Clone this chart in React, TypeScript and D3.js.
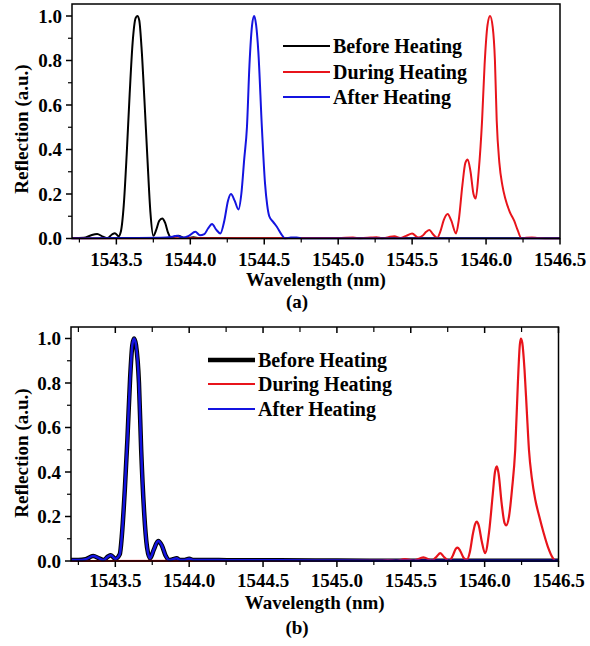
import React from "react";
import * as d3 from "d3";

// ---------- Data ----------
const xTicks = [1543.5, 1544.0, 1544.5, 1545.0, 1545.5, 1546.0, 1546.5];
const yTicks = [0, 0.2, 0.4, 0.6, 0.8, 1.0];
const seriesNames = ["Before Heating", "During Heating", "After Heating"];

// Panel (a)
const aBeforeW = [1543.2, 1543.28, 1543.33, 1543.37, 1543.41, 1543.44, 1543.47, 1543.49, 1543.515, 1543.53, 1543.55, 1543.57, 1543.59, 1543.61, 1543.63, 1543.642, 1543.655, 1543.67, 1543.69, 1543.71, 1543.73, 1543.75, 1543.77, 1543.79, 1543.81, 1543.83, 1543.85, 1543.87, 1543.9, 1543.92, 1543.95, 1543.98, 1544.02, 1544.06, 1544.2, 1544.5, 1545.0, 1546.5];
const aBeforeV = [0.002, 0.003, 0.015, 0.02, 0.008, 0.002, 0.018, 0.024, 0.01, 0.03, 0.15, 0.38, 0.65, 0.88, 0.99, 1.0, 0.98, 0.86, 0.62, 0.36, 0.12, 0.012, 0.04, 0.08, 0.09, 0.07, 0.025, 0.004, 0.01, 0.012, 0.004, 0.002, 0.006, 0.002, 0.002, 0.001, 0.001, 0.001];

const aDuringW = [1543.2, 1544.0, 1544.8, 1545.0, 1545.1, 1545.15, 1545.22, 1545.26, 1545.3, 1545.34, 1545.38, 1545.42, 1545.46, 1545.5, 1545.54, 1545.57, 1545.595, 1545.617, 1545.64, 1545.67, 1545.69, 1545.715, 1545.74, 1545.765, 1545.797, 1545.815, 1545.84, 1545.86, 1545.876, 1545.895, 1545.915, 1545.93, 1545.95, 1545.973, 1545.99, 1546.01, 1546.027, 1546.045, 1546.06, 1546.072, 1546.09, 1546.11, 1546.13, 1546.16, 1546.19, 1546.215, 1546.24, 1546.27, 1546.31, 1546.35, 1546.4, 1546.5];
const aDuringV = [0, 0.001, 0.002, 0.002, 0.004, 0.001, 0.004, 0.006, 0.001, 0.006, 0.01, 0.002, 0.012, 0.023, 0.004, 0.012, 0.03, 0.038, 0.02, 0.003, 0.03, 0.085, 0.11, 0.08, 0.023, 0.08, 0.24, 0.34, 0.355, 0.3, 0.2, 0.18, 0.3, 0.53, 0.78, 0.96, 1.0, 0.95, 0.8, 0.53, 0.34, 0.24, 0.18, 0.12, 0.08, 0.035, 0.0, 0.003, 0.005, 0.002, 0.0, 0.0];

const aAfterW = [1543.2, 1543.5, 1543.8, 1543.88, 1543.91, 1543.95, 1543.99, 1544.034, 1544.065, 1544.095, 1544.12, 1544.147, 1544.175, 1544.203, 1544.23, 1544.255, 1544.275, 1544.3, 1544.326, 1544.345, 1544.365, 1544.383, 1544.4, 1544.418, 1544.432, 1544.445, 1544.46, 1544.484, 1544.505, 1544.52, 1544.534, 1544.56, 1544.585, 1544.615, 1544.64, 1544.68, 1544.72, 1544.76, 1545.0, 1546.5];
const aAfterV = [0, 0.002, 0.003, 0.008, 0.012, 0.004, 0.012, 0.03, 0.015, 0.02, 0.045, 0.065, 0.04, 0.023, 0.08, 0.17, 0.2, 0.17, 0.13, 0.2, 0.36, 0.5, 0.78, 0.96, 1.0, 0.96, 0.84, 0.5, 0.25, 0.15, 0.1, 0.075, 0.053, 0.02, 0.0, 0.004, 0.005, 0.0, 0.0, 0.0];

// Panel (b)
const bBeforeW = [1543.2, 1543.25, 1543.3, 1543.35, 1543.39, 1543.42, 1543.45, 1543.47, 1543.5, 1543.53, 1543.545, 1543.565, 1543.582, 1543.6, 1543.615, 1543.627, 1543.64, 1543.66, 1543.675, 1543.695, 1543.715, 1543.735, 1543.76, 1543.79, 1543.815, 1543.84, 1543.865, 1543.89, 1543.915, 1543.94, 1543.97, 1544.0, 1544.03, 1544.1, 1544.3, 1544.6, 1545.0, 1545.5, 1546.5];
const bBeforeV = [0.004, 0.004, 0.008, 0.022, 0.012, 0.004, 0.02, 0.026, 0.01, 0.03, 0.12, 0.33, 0.55, 0.82, 0.97, 1.0, 0.97, 0.8, 0.5, 0.22, 0.06, 0.012, 0.05, 0.09, 0.07, 0.025, 0.004, 0.008, 0.012, 0.004, 0.005, 0.01, 0.004, 0.005, 0.003, 0.003, 0.002, 0.001, 0.001];
const bAfterW = bBeforeW;
const bAfterV = bBeforeV;

const bDuringW = [1543.2, 1545.0, 1545.3, 1545.345, 1545.4, 1545.46, 1545.52, 1545.585, 1545.645, 1545.675, 1545.7, 1545.725, 1545.76, 1545.785, 1545.805, 1545.818, 1545.835, 1545.86, 1545.879, 1545.9, 1545.92, 1545.935, 1545.947, 1545.96, 1545.98, 1546.003, 1546.03, 1546.055, 1546.07, 1546.083, 1546.095, 1546.115, 1546.135, 1546.146, 1546.165, 1546.185, 1546.207, 1546.225, 1546.238, 1546.245, 1546.255, 1546.27, 1546.285, 1546.3, 1546.32, 1546.343, 1546.37, 1546.4, 1546.43, 1546.46, 1546.48, 1546.5];
const bDuringV = [0, 0.001, 0.002, 0.004, 0.001, 0.008, 0.002, 0.016, 0.003, 0.02, 0.035, 0.018, 0.0, 0.025, 0.055, 0.06, 0.045, 0.012, 0.005, 0.04, 0.12, 0.165, 0.177, 0.16, 0.09, 0.035, 0.13, 0.3, 0.4, 0.425, 0.39, 0.26, 0.17, 0.16, 0.2, 0.32, 0.5, 0.8, 0.97, 1.0, 0.98, 0.86, 0.68, 0.5, 0.37, 0.275, 0.2, 0.125, 0.06, 0.015, 0.0, 0.0];

// ---------- Styling ----------
const FONT = "'Liberation Serif', 'Times New Roman', serif";
const BLACK = "#000000";
const RED = "#e8141b";
const BLUE = "#1414e0";

type Series = { w: number[]; v: number[]; color: string; width: number };
type PanelProps = {
  left: number; right: number; top: number; y0: number;
  series: Series[];
  topTicks: boolean;
  legend: { x1: number; x2: number; rows: number[]; widths: number[] };
  tickBase: number; titleBase: number; tagBase: number; tag: string; yTitleY: number;
};

function Panel(p: PanelProps) {
  const x = d3.scaleLinear().domain([1543.2, 1546.5]).range([p.left, p.right]);
  const y = d3.scaleLinear().domain([0, 1.0]).range([p.y0, p.y0 - 222.5]);
  const line = d3.line<[number, number]>()
    .x((d) => x(d[0]))
    .y((d) => y(d[1]))
    .curve(d3.curveMonotoneX);
  const minorX = d3.range(1543.25, 1546.5, 0.5);
  const minorY = [0.1, 0.3, 0.5, 0.7, 0.9];
  const clipId = "clip" + p.tag;
  return (
    <g>
      <defs>
        <clipPath id={clipId}>
          <rect x={p.left} y={p.top} width={p.right - p.left} height={p.y0 - p.top + 1} />
        </clipPath>
      </defs>
      <g clipPath={`url(#${clipId})`}>
        {p.series.map((s, i) => (
          <path key={i} d={line(s.w.map((w, j) => [w, s.v[j]] as [number, number])) || ""}
            fill="none" stroke={s.color} strokeWidth={s.width} strokeLinejoin="round" />
        ))}
      </g>
      <rect x={p.left} y={p.top} width={p.right - p.left} height={p.y0 - p.top}
        fill="none" stroke="#000" strokeWidth={1.5} />
      {xTicks.map((t) => (
        <g key={t}>
          <line x1={x(t)} x2={x(t)} y1={p.y0} y2={p.y0 + 6} stroke="#000" strokeWidth={1.5} />
          {p.topTicks && <line x1={x(t)} x2={x(t)} y1={p.top} y2={p.top + 6} stroke="#000" strokeWidth={1.5} />}
          <text x={x(t)} y={p.tickBase} textAnchor="middle" fontFamily={FONT} fontWeight="bold" fontSize={19}>
            {t.toFixed(1)}
          </text>
        </g>
      ))}
      {minorX.map((t) => (
        <g key={"m" + t}>
          <line x1={x(t)} x2={x(t)} y1={p.y0} y2={p.y0 + 4} stroke="#000" strokeWidth={1.2} />
          {p.topTicks && <line x1={x(t)} x2={x(t)} y1={p.top} y2={p.top + 5} stroke="#000" strokeWidth={1.2} />}
        </g>
      ))}
      {yTicks.map((t) => (
        <g key={"y" + t}>
          <line x1={p.left - 6} x2={p.left} y1={y(t)} y2={y(t)} stroke="#000" strokeWidth={1.5} />
          <text x={p.left - 10} y={y(t)} dy="0.35em" textAnchor="end" fontFamily={FONT} fontWeight="bold" fontSize={19}>
            {t.toFixed(1)}
          </text>
        </g>
      ))}
      {minorY.map((t) => (
        <line key={"my" + t} x1={p.left - 4} x2={p.left} y1={y(t)} y2={y(t)} stroke="#000" strokeWidth={1.2} />
      ))}
      <text x={(p.left + p.right) / 2} y={p.titleBase} textAnchor="middle" fontFamily={FONT} fontWeight="bold" fontSize={19}>
        Wavelength (nm)
      </text>
      <text x={297} y={p.tagBase} textAnchor="middle" fontFamily={FONT} fontWeight="bold" fontSize={19}>
        {`(${p.tag})`}
      </text>
      <text transform={`translate(21,${p.yTitleY}) rotate(-90)`} textAnchor="middle" dy="0.35em"
        fontFamily={FONT} fontWeight="bold" fontSize={19}>
        Reflection (a.u.)
      </text>
      {seriesNames.map((n, i) => (
        <g key={n}>
          <line x1={p.legend.x1} x2={p.legend.x2} y1={p.legend.rows[i]} y2={p.legend.rows[i]}
            stroke={p.series[i].color} strokeWidth={p.legend.widths[i]} />
          <text x={p.legend.x2 + 3} y={p.legend.rows[i]} dy="0.35em" fontFamily={FONT} fontWeight="bold" fontSize={20}>
            {n}
          </text>
        </g>
      ))}
    </g>
  );
}

export default function App() {
  return (
    <svg width={590} height={646} style={{ position: "absolute", left: 0, top: 0, background: "#fff" }}>
      <rect width={590} height={646} fill="#fff" />
      <Panel
        left={72} right={560} top={4} y0={238.5}
        series={[
          { w: aBeforeW, v: aBeforeV, color: BLACK, width: 2 },
          { w: aDuringW, v: aDuringV, color: RED, width: 2 },
          { w: aAfterW, v: aAfterV, color: BLUE, width: 2 },
        ]}
        topTicks={false}
        legend={{ x1: 283, x2: 330, rows: [46, 72, 97], widths: [2, 2, 2] }}
        tickBase={266} titleBase={286} tagBase={308} tag="a" yTitleY={129}
      />
      <Panel
        left={71} right={558.5} top={327} y0={561}
        series={[
          { w: bBeforeW, v: bBeforeV, color: BLACK, width: 4.5 },
          { w: bDuringW, v: bDuringV, color: RED, width: 2.2 },
          { w: bAfterW, v: bAfterV, color: BLUE, width: 2.5 },
        ]}
        topTicks={true}
        legend={{ x1: 208, x2: 255, rows: [360, 384, 409], widths: [4.5, 2, 2] }}
        tickBase={587} titleBase={609} tagBase={634} tag="b" yTitleY={453}
      />
    </svg>
  );
}
